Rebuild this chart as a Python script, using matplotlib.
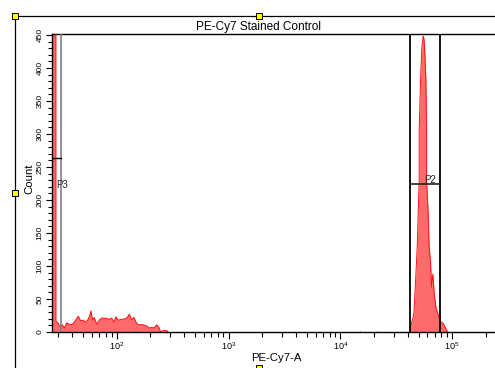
import numpy as np
import matplotlib.pyplot as plt
from matplotlib.lines import Line2D
from matplotlib.ticker import FixedLocator, LogLocator, MultipleLocator, NullFormatter, FuncFormatter

plt.rcParams['font.family'] = ['Liberation Sans', 'DejaVu Sans']
plt.rcParams['mathtext.fontset'] = 'custom'
plt.rcParams['mathtext.rm'] = 'Liberation Sans'
plt.rcParams['mathtext.it'] = 'Liberation Sans:italic'

title = "PE-Cy7 Stained Control"
x_label = "PE-Cy7-A"
y_label = "Count"

# low-end events (PE-Cy7-A value, count); the first bins run off the top
low_x = [26.6, 28.5, 28.67, 30.06, 31.13, 32.64, 34.01, 35.73, 37.47, 39.04,
         40.93, 43.0, 45.36, 47.67, 50.28, 52.07, 54.6, 56.9, 58.92, 61.02,
         63.07, 66.25, 69.9, 73.44, 80.25, 85.34, 90.24, 94.6, 98.6, 103.3,
         110.8, 118.6, 124.4, 129.6, 136.2, 142.8, 150.9, 159.2, 172.9, 185.4,
         195.6, 205.6, 215.5, 227.9, 238.8, 247.4, 259.4, 281.7, 287.6]
low_counts = [2600, 2600, 16, 13, 8, 11, 6, 14, 12, 11,
              13, 18, 24, 17, 18, 15, 17, 23, 32, 18,
              22, 12, 18, 21, 21, 19, 21, 15, 23, 18,
              19, 20, 22, 27, 19, 22, 13, 11, 11, 9,
              6, 7, 6, 11, 7, 0, 2, 2, 0]

# stained population
peak_x = [41880, 42270, 43340, 44540, 45470, 47110, 48670, 49660, 50700, 50700,
          52140, 53540, 55050, 55840, 56630, 58180, 59020, 59020, 60970, 62230,
          64070, 65410, 67160, 69010, 71440, 73960, 76540, 78770, 83030, 89100,
          91590]
peak_counts = [0, 6, 14, 21, 29, 79, 129, 180, 230, 306,
               382, 432, 448, 445, 432, 382, 306, 230, 180, 129,
               105, 68, 88, 59, 38, 29, 23, 16, 13, 3,
               0]

# single stray events
stray_x = [14960, 21090, 100000]
stray_counts = [2, 2, 2]

# gates
p3_gate = [26.6, 31.8]
p3_level = 264
p2_gate = [41850, 77620]
p2_level = 224

x_decades = [1e2, 1e3, 1e4, 1e5]
y_ticks = list(range(0, 451, 50))

W, H = 495, 368
fig = plt.figure(figsize=(W / 100, H / 100), dpi=100)
ax = fig.add_axes([52.3 / W, 1 - 332 / H, (499 - 52.3) / W, (332 - 34) / H])

fill_c = '#ff6b6b'
edge_c = '#ff1010'
ax.fill_between(low_x, low_counts, color=fill_c, lw=0, zorder=2)
ax.plot(low_x, low_counts, color=edge_c, lw=0.7, zorder=3)
ax.fill_between(peak_x, peak_counts, color=fill_c, lw=0, zorder=2)
ax.plot(peak_x, peak_counts, color=edge_c, lw=0.7, zorder=3)
ax.vlines(stray_x, 0, stray_counts, color=edge_c, lw=0.8, zorder=3)

# P2 gate
for gx in p2_gate:
    ax.axvline(gx, color='black', lw=1.3, zorder=4)
ax.plot(p2_gate, [p2_level, p2_level], color='#222222', lw=1.2, zorder=4)
ax.text(63180, p2_level + 2, "P2", fontsize=7, color='#222222',
        ha='center', va='baseline', zorder=5)

# P3 gate
ax.axvline(p3_gate[1], color='#808080', lw=1.2, zorder=4)
ax.plot(p3_gate, [p3_level, p3_level], color='black', lw=1.0, zorder=4)
ax.text(29.1, 218, "P3", fontsize=7, color='#222222', ha='left', va='baseline', zorder=5)

ax.set_xscale('log')
ax.set_xlim(26.57, 262144)
ax.set_ylim(0, 451.5)

ax.xaxis.set_major_locator(FixedLocator(x_decades))
ax.xaxis.set_major_formatter(FuncFormatter(
    lambda v, p: r'$\mathregular{10^{%d}}$' % int(round(np.log10(v)))))
ax.xaxis.set_minor_locator(LogLocator(base=10, subs=range(2, 10), numticks=20))
ax.xaxis.set_minor_formatter(NullFormatter())

ax.yaxis.set_major_locator(FixedLocator(y_ticks))
ax.yaxis.set_minor_locator(MultipleLocator(10))

ax.tick_params(axis='x', which='major', length=5, width=0.8, pad=1, labelsize=6.5, direction='out')
ax.tick_params(axis='x', which='minor', length=3.6, width=0.8, direction='out')
ax.tick_params(axis='y', which='major', length=4, width=0.8, pad=2.2, labelsize=6, direction='out')
ax.tick_params(axis='y', which='minor', length=3, width=0.8, direction='out')
for lab in ax.get_yticklabels():
    lab.set_rotation(90)
    lab.set_va('center')

for side in ['left', 'bottom', 'top']:
    ax.spines[side].set_linewidth(1.0)
ax.spines['right'].set_visible(False)

fig.text(259 / W, 1 - 27 / H, title, ha='center', va='center', fontsize=8.5)
fig.text(276 / W, 1 - 358 / H, x_label, ha='center', va='center', fontsize=8.2)
fig.text(29 / W, 1 - 179 / H, y_label, ha='center', va='center', fontsize=8.2, rotation=90)

# outer frame with handles
fig.add_artist(Line2D([15 / W, 1], [1 - 16 / H] * 2, color='black', lw=0.9, transform=fig.transFigure))
fig.add_artist(Line2D([15 / W] * 2, [1 - 16 / H, 0], color='black', lw=0.9, transform=fig.transFigure))
for hx, hy in [(15, 16), (259, 16), (15, 193), (259, 368)]:
    fig.add_artist(Line2D([hx / W], [1 - hy / H], marker='s', ms=4.5, mfc='#ffff00',
                          mec='black', mew=0.7, ls='none', transform=fig.transFigure,
                          clip_on=False))

fig.savefig('out.png', dpi=100)
